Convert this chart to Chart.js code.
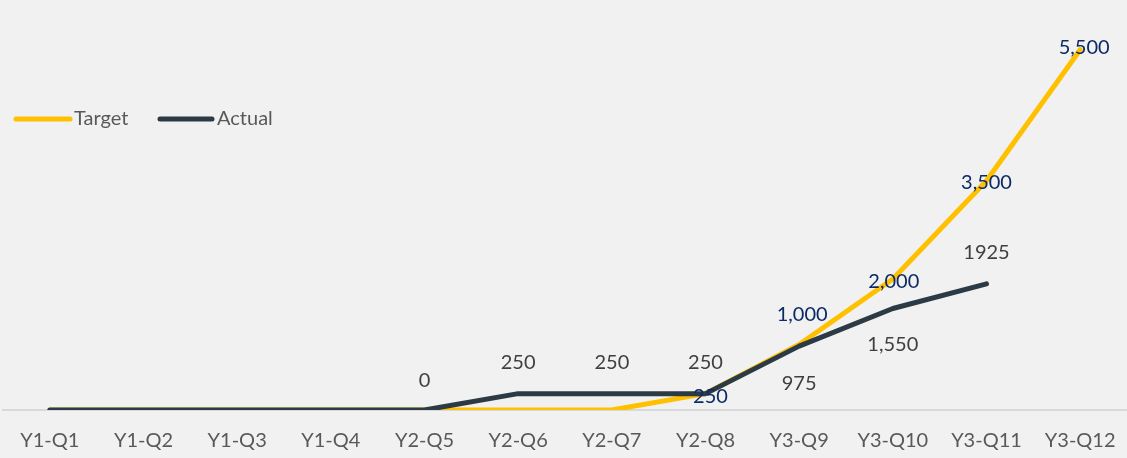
<!DOCTYPE html>
<html>
<head>
<meta charset="utf-8">
<script src="https://cdn.jsdelivr.net/npm/chart.js@4/dist/chart.umd.min.js"></script>
<style>
  html, body { margin: 0; padding: 0; background: #f0f1f0; }
  #wrap { width: 1127px; height: 458px; position: relative; }
</style>
</head>
<body>
<div id="wrap"><canvas id="c"></canvas></div>
<script>
const categories = ['Y1-Q1','Y1-Q2','Y1-Q3','Y1-Q4','Y2-Q5','Y2-Q6','Y2-Q7','Y2-Q8','Y3-Q9','Y3-Q10','Y3-Q11','Y3-Q12'];
const targetValues = [0, 0, 0, 0, 0, 0, 0, 250, 1000, 2000, 3500, 5500];
const actualValues = [0, 0, 0, 0, 0, 250, 250, 250, 975, 1550, 1925, null];
const targetLabels = [null, null, null, null, null, null, null, '250', '1,000', '2,000', '3,500', '5,500'];
const actualLabels = [null, null, null, null, '0', '250', '250', '250', '975', '1,550', '1925', null];

const FONT = 'Lato, "Open Sans", sans-serif';
const YELLOW = '#FFC000';
const DARK = '#2B3A44';

// label offsets (dx, dy) relative to the point
const targetOffsets = {7: [5, 3], 8: [3, -30], 9: [1, 3], 10: [0, 2], 11: [4, -2]};
const actualOffsets = {4: [0, -29], 5: [0, -31], 6: [0, -31], 7: [0, -31], 8: [0, 37], 9: [0, 36], 10: [0, -31]};

const labelPlugin = {
  id: 'labelsAndLegend',
  afterDatasetsDraw(chart) {
    const ctx = chart.ctx;
    ctx.save();
    ctx.font = '20px ' + FONT;
    ctx.textAlign = 'center';
    ctx.textBaseline = 'middle';
    const draw = (dsIndex, labels, offsets, color) => {
      const meta = chart.getDatasetMeta(dsIndex);
      ctx.fillStyle = color;
      labels.forEach((t, i) => {
        if (t == null) return;
        const p = meta.data[i];
        const o = offsets[i] || [0, 0];
        ctx.fillText(t, p.x + o[0], p.y + o[1]);
      });
    };
    draw(1, actualLabels, actualOffsets, '#404040');
    draw(0, targetLabels, targetOffsets, '#0B2A66');

    // legend
    const items = [
      {text: chart.data.datasets[0].label, color: YELLOW, x1: 16, x2: 70, tx: 74},
      {text: chart.data.datasets[1].label, color: DARK, x1: 160, x2: 212, tx: 217}
    ];
    const ly = 119;
    items.forEach(it => {
      ctx.beginPath();
      ctx.lineCap = 'round';
      ctx.lineWidth = 5;
      ctx.strokeStyle = it.color;
      ctx.moveTo(it.x1, ly);
      ctx.lineTo(it.x2, ly);
      ctx.stroke();
      ctx.fillStyle = '#595959';
      ctx.textAlign = 'left';
      ctx.fillText(it.text, it.tx, ly);
    });
    ctx.restore();
  }
};

new Chart(document.getElementById('c'), {
  type: 'line',
  data: {
    labels: categories,
    datasets: [
      {label: 'Target', data: targetValues, borderColor: YELLOW, backgroundColor: YELLOW,
       borderWidth: 5, pointRadius: 0, tension: 0, borderCapStyle: 'round', borderJoinStyle: 'round', order: 2},
      {label: 'Actual', data: actualValues, borderColor: DARK, backgroundColor: DARK,
       borderWidth: 5, pointRadius: 0, tension: 0, borderCapStyle: 'round', borderJoinStyle: 'round', order: 1}
    ]
  },
  options: {
    responsive: true,
    maintainAspectRatio: false,
    animation: false,
    layout: {padding: {left: 3, right: -3, top: 17, bottom: 8}},
    plugins: {legend: {display: false}, tooltip: {enabled: false}},
    scales: {
      x: {
        offset: true,
        grid: {display: false, drawTicks: false},
        border: {display: true, color: '#d9d9d9', width: 2},
        ticks: {color: '#595959', font: {family: FONT, size: 20}, padding: 19, maxRotation: 0, autoSkip: false},
        afterFit(scale) { scale.height = 40; scale.paddingLeft = 0; scale.paddingRight = 0; }
      },
      y: {display: false, min: 0, max: 6000}
    }
  },
  plugins: [labelPlugin]
});
</script>
</body>
</html>
